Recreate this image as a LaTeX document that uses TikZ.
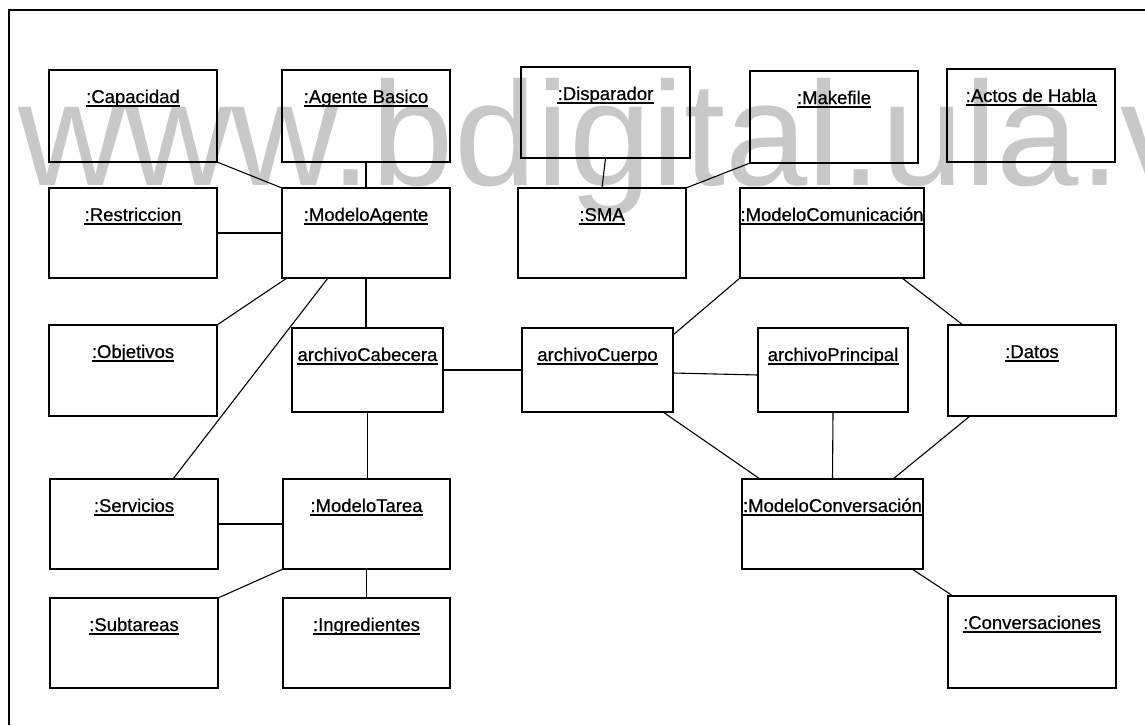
\documentclass[tikz,border=0pt]{standalone}
\usepackage{fontspec}
\setmainfont{Liberation Sans}
\newfontfamily\labelfont[FakeBold=0.6]{Liberation Sans}
\definecolor{wmgray}{RGB}{200,200,200}
% object box: name, left, top, right, bottom, underlined title
\newcommand\umlobj[6]{%
  \node[objbox, minimum width={#4-#2}, minimum height={#5-#3}] (#1) at ({(#2+#4)/2},{(#3+#5)/2}) {};
  \node[objlabel] (#1-t) at ({(#2+#4)/2},{#3+33}) {#6};
  \draw[uline] ([yshift=-3pt]#1-t.base west) -- ([yshift=-3pt]#1-t.base east);
}
\begin{document}
\begin{tikzpicture}[x=1pt,y=-1pt,
  objbox/.style={draw, line width=1.8pt, inner sep=0pt, outer sep=0pt},
  objlabel/.style={inner sep=0pt, anchor=base, font=\labelfont\fontsize{18.5}{20}\selectfont},
  uline/.style={line width=1.3pt},
  link/.style={line width=1.1pt},
  frameline/.style={line width=1.5pt},
  watermark/.style={text=wmgray, inner sep=0pt, anchor=base west, font=\fontsize{148}{150}\selectfont}]

\fill[white] (0,0) rectangle (1145,725);
\useasboundingbox (0,0) rectangle (1145,725);

% background watermark
\begin{scope}
  \clip (0,0) rectangle (1145,725);
  \node[watermark] (wm) at (18,185) {www.bdigital.ula.ve};
\end{scope}

% outer frame (top and left edges)
\draw[frameline] (9,725) -- (9,10) -- (1145,10);

% objects
\umlobj{cap}{49}{70}{217}{162}{:Capacidad}
\umlobj{agb}{282}{70}{450}{162}{:Agente Basico}
\umlobj{disp}{521}{67}{690}{158}{:Disparador}
\umlobj{mk}{750}{71}{918}{163}{:Makefile}
\umlobj{actos}{947}{69}{1115}{162}{:Actos de Habla}
\umlobj{res}{49}{188}{217}{278}{:Restriccion}
\umlobj{magt}{282}{188}{450}{278}{:ModeloAgente}
\umlobj{sma}{518}{188}{686}{278}{:SMA}
\umlobj{com}{740}{188}{924}{278}{:ModeloComunicación}
\umlobj{obj}{49}{325}{217}{416}{:Objetivos}
\umlobj{cab}{292}{328}{443}{412}{archivoCabecera}
\umlobj{cuer}{522}{328}{673}{412}{archivoCuerpo}
\umlobj{prin}{758}{328}{908}{412}{archivoPrincipal}
\umlobj{datos}{948}{325}{1116}{416}{:Datos}
\umlobj{serv}{50}{479}{218}{569}{:Servicios}
\umlobj{tarea}{283}{479}{450}{569}{:ModeloTarea}
\umlobj{conv}{742}{479}{923}{569}{:ModeloConversación}
\umlobj{sub}{50}{598}{218}{688}{:Subtareas}
\umlobj{ingr}{283}{598}{450}{688}{:Ingredientes}
\umlobj{convs}{948}{596}{1116}{688}{:Conversaciones}

% links
\draw[link] (cap.south east) -- (magt.north west);
\draw[link] (agb.south) -- (magt.north);
\draw[link] (res.east) -- (magt.west);
\draw[link] ([xshift=5pt]magt.south west) -- (obj.north east);
\draw[link] ([xshift=46pt]magt.south west) -- ([xshift=123pt]serv.north west);
\draw[link] (magt.south) -- (magt.south |- cab.north);
\draw[link] (cab.east) -- (cuer.west);
\draw[link] (cab.south) -- (cab.south |- tarea.north);
\draw[link] (serv.east) -- (tarea.west);
\draw[link] (tarea.south west) -- (sub.north east);
\draw[link] (tarea.south) -- (ingr.north);
\draw[link] (disp.south) -- (sma.north);
\draw[link] (sma.north east) -- (mk.south west);
\draw[link] (com.south west) -- ([yshift=-7pt]cuer.north east);
\draw[link] ([xshift=-22pt]com.south east) -- ([xshift=15pt]datos.north west);
\draw[link] ([yshift=-3pt]cuer.east) -- ([yshift=-5pt]prin.west);
\draw[link] ([xshift=-10pt]cuer.south east) -- ([xshift=18pt]conv.north west);
\draw[link] (prin.south) -- (conv.north);
\draw[link] ([xshift=22pt]datos.south west) -- ([xshift=-30pt]conv.north east);
\draw[link] ([xshift=-11pt]conv.south east) -- ([xshift=5pt]convs.north west);
\end{tikzpicture}
\end{document}
